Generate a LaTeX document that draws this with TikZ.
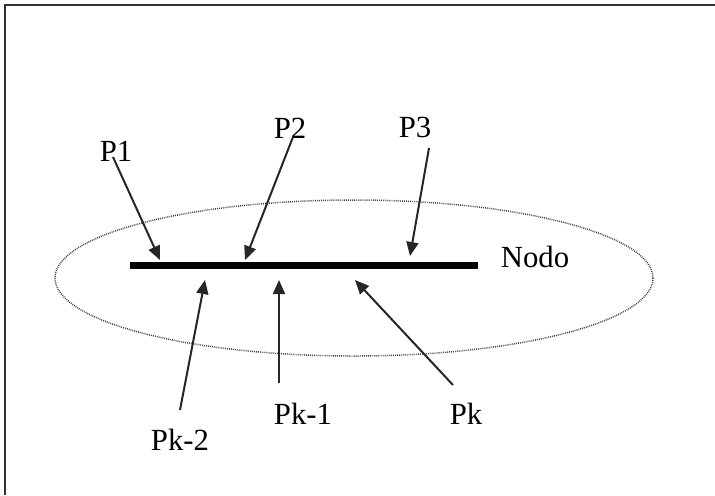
\documentclass[tikz,border=0pt]{standalone}
\usepackage{fontspec}
\setmainfont{Liberation Serif}
\usetikzlibrary{arrows.meta}

\begin{document}
\begin{tikzpicture}[x=0.02cm,y=-0.02cm,>={Triangle[length=0.28cm,width=0.24cm]},
                    name node/.style={inner sep=0pt,font=\fontsize{17.5}{20}\selectfont},
                    arrow line/.style={->,line width=0.04cm,draw=black!85}]
  \useasboundingbox (0,0) rectangle (715,495);
  % frame
  \draw[line width=0.045cm,black!80] (5,495) -- (5,5) -- (715,5);
  % node region
  \draw[black!75,line width=0.03cm,dash pattern=on 0.5pt off 0.6pt] (354,278) ellipse [x radius=299,y radius=78];
  \draw[line width=0.14cm] (130,265.5) -- (478,265.5);
  \node[name node] (nodo) at (535,257) {Nodo};
  % labels
  \node[name node] (p1) at (116,151) {P1};
  \node[name node] (p2) at (290,128) {P2};
  \node[name node] (p3) at (415,127) {P3};
  \node[name node] (pk2) at (180,440) {Pk-2};
  \node[name node] (pk1) at (303,414) {Pk-1};
  \node[name node] (pk) at (466,414) {Pk};
  % tails and hits
  \coordinate (a1) at (113,157); \coordinate (h1) at (160,260);
  \coordinate (a2) at (293,137); \coordinate (h2) at (245,260);
  \coordinate (a3) at (429,148); \coordinate (h3) at (410,256);
  \coordinate (a4) at (180,410); \coordinate (h4) at (205,280);
  \coordinate (a5) at (279,383); \coordinate (h5) at (279,280);
  \coordinate (a6) at (453,385); \coordinate (h6) at (355,280);
  \foreach \i in {1,...,6}
    \draw[arrow line] (a\i) -- (h\i);
\end{tikzpicture}
\end{document}
